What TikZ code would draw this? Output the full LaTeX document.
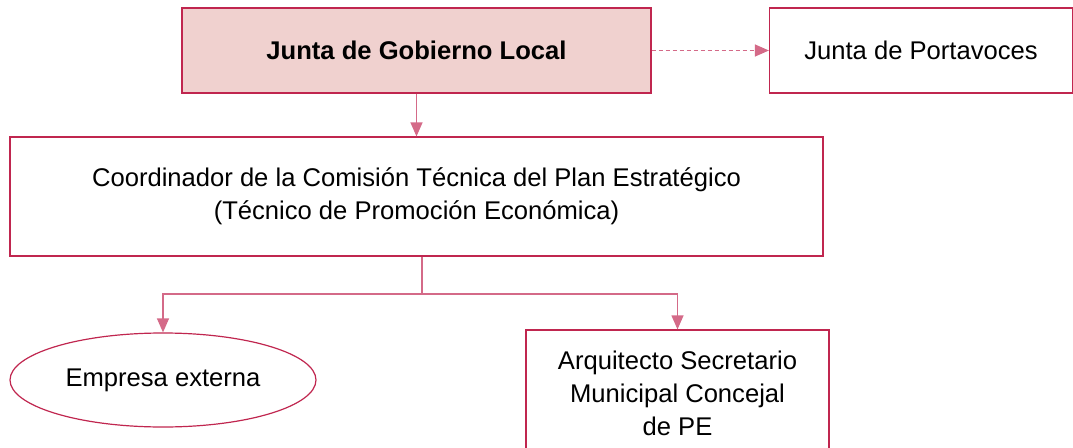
\documentclass[tikz,border=0pt]{standalone}
\usepackage{fontspec}
\setmainfont{Liberation Sans}
\usetikzlibrary{shapes,arrows.meta}
\definecolor{borde}{HTML}{C0264F}
\definecolor{rosa}{HTML}{D46A88}
\definecolor{relleno}{HTML}{F0D1CF}

\begin{document}
\begin{tikzpicture}[x=1pt,y=-1pt,
		font=\fontsize{25.6}{33}\selectfont,
		every node/.style={
			draw=borde,line width=1.2pt,align=center,inner sep=0pt
		},
		caja/.style={
			rectangle,minimum height=85pt
		},
		flecha/.style={
			draw=rosa,line width=1.2pt,-{Triangle[length=14pt,width=12pt]}
		}
		]
		\useasboundingbox (0,0) rectangle (1073,447);
		% arriba
		\node[caja,fill=relleno,minimum width=469pt,font=\fontsize{25.6}{33}\selectfont\bfseries] (junta) at (416.5,50.5) {Junta de Gobierno Local};
		\node[caja,minimum width=303pt] (portavoces) at (921,50.5) {Junta de Portavoces};
		% centro
		\node[caja,minimum width=813pt,minimum height=119pt] (coord) at (416.5,196.5) {Coordinador de la Comisi\'on T\'ecnica del Plan Estrat\'egico\\(T\'ecnico de Promoci\'on Econ\'omica)};
		% abajo
		\node[ellipse,minimum width=306pt,minimum height=94pt] (empresa) at (163,380) {Empresa externa};
		\node[caja,minimum width=303pt,minimum height=126pt] (arquitecto) at (677.5,393) {Arquitecto Secretario\\Municipal Concejal\\de PE};
		\coordinate (rama) at (422,294);
		\draw[flecha,dash pattern=on 4pt off 3pt] (junta) -- (portavoces);
		\draw[flecha] (junta) -- (coord);
		\draw[draw=rosa,line width=1.2pt] (coord.south -| rama) -- (rama);
		\draw[flecha] (rama) -| (empresa.north);
		\draw[flecha] (rama) -| (arquitecto.north);
\end{tikzpicture}
\end{document}
